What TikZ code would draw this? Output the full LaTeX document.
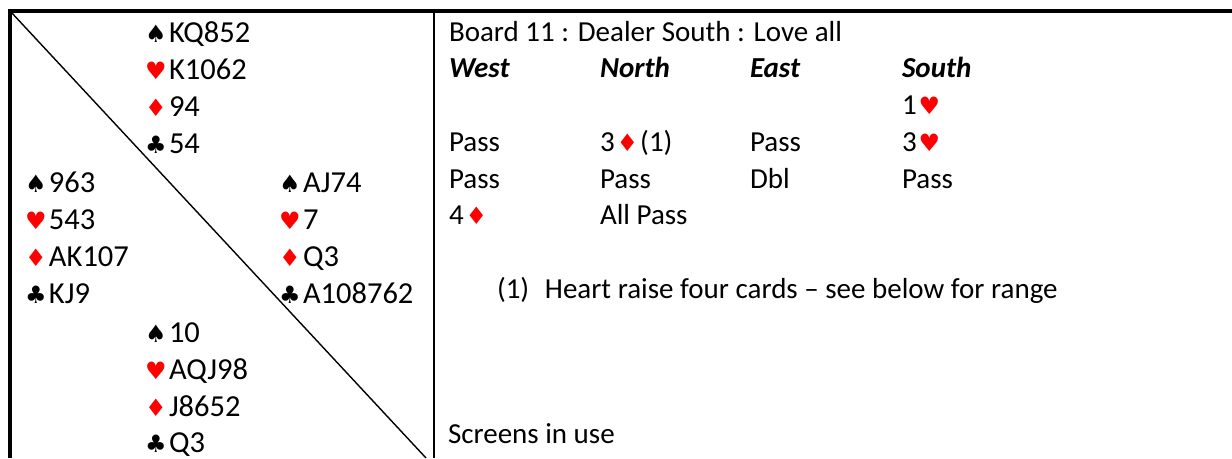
\documentclass[tikz,border=0pt]{standalone}
\usepackage{fontspec}
\setmainfont{Carlito}
\newfontfamily\suitfont{DejaVu Sans}
\definecolor{suitred}{RGB}{255,0,0}
\newcommand\SPADE{{\suitfont\fontsize{24}{24}\selectfont ♠}}
\newcommand\CLUB{{\suitfont\fontsize{24}{24}\selectfont ♣}}
\newcommand\HEART{{\color{suitred}\suitfont\fontsize{24}{24}\selectfont ♥}}
\newcommand\DIAM{{\color{suitred}\suitfont\fontsize{24}{24}\selectfont ♦}}
\newcommand\hs[2]{\makebox[24pt][l]{#1}#2}
\newcommand\bid[1]{\kern2pt#1\kern2pt}
\begin{document}
\begin{tikzpicture}[x=1pt,y=-1pt,
  txt/.style={anchor=base west, inner sep=0pt, outer sep=0pt, font=\fontsize{29}{35}\selectfont},
  hand/.style={txt, font=\fontsize{30.5}{35}\selectfont},
  head/.style={txt, font=\fontsize{29}{35}\selectfont\bfseries\itshape},
  frame/.style={line width=4pt, black},
  divider/.style={line width=2pt, black},
  diag/.style={line width=1.4pt, black}]
\useasboundingbox (0,0) rectangle (1232,458);
% frame
\coordinate (tl) at (8,11);
\coordinate (tr) at (1232,11);
\coordinate (lt) at (10,9);
\coordinate (lb) at (10,458);
\coordinate (mt) at (434,13);
\coordinate (mb) at (434,458);
\coordinate (ds) at (11,12);
\coordinate (de) at (426,458);
\draw[frame] (tl) -- (tr);
\draw[frame] (lt) -- (lb);
\draw[divider] (mt) -- (mb);
\draw[diag] (ds) -- (de);
% North
\node[hand] (n1) at (145,42) {\hs{\SPADE}{KQ852}};
\node[hand] (n2) at (145,79) {\hs{\HEART}{K1062}};
\node[hand] (n3) at (145,116) {\hs{\DIAM}{94}};
\node[hand] (n4) at (145,153) {\hs{\CLUB}{54}};
% West
\node[hand] (w1) at (25,192) {\hs{\SPADE}{963}};
\node[hand] (w2) at (25,229) {\hs{\HEART}{543}};
\node[hand] (w3) at (25,266) {\hs{\DIAM}{AK107}};
\node[hand] (w4) at (25,303) {\hs{\CLUB}{KJ9}};
% East
\node[hand] (e1) at (279,192) {\hs{\SPADE}{AJ74}};
\node[hand] (e2) at (279,229) {\hs{\HEART}{7}};
\node[hand] (e3) at (279,266) {\hs{\DIAM}{Q3}};
\node[hand] (e4) at (279,303) {\hs{\CLUB}{A108762}};
% South
\node[hand] (s1) at (145,342) {\hs{\SPADE}{10}};
\node[hand] (s2) at (145,379) {\hs{\HEART}{AQJ98}};
\node[hand] (s3) at (145,416) {\hs{\DIAM}{J8652}};
\node[hand] (s4) at (145,452) {\hs{\CLUB}{Q3}};
% Bidding
\node[txt] (title) at (449,41) {Board 11 : Dealer South : Love all};
\node[head] (hw) at (449,77) {West};
\node[head] (hn) at (600,77) {North};
\node[head] (he) at (750,77) {East};
\node[head] (hsouth) at (902,77) {South};
\node[txt] (b1s) at (902,114) {1\bid{\HEART}};
\node[txt] (b2w) at (449,151) {Pass};
\node[txt] (b2n) at (600,151) {3\bid{\DIAM}(1)};
\node[txt] (b2e) at (750,151) {Pass};
\node[txt] (b2s) at (902,151) {3\bid{\HEART}};
\node[txt] (b3w) at (449,188) {Pass};
\node[txt] (b3n) at (600,188) {Pass};
\node[txt] (b3e) at (750,188) {Dbl};
\node[txt] (b3s) at (902,188) {Pass};
\node[txt] (b4w) at (449,224) {4\bid{\DIAM}};
\node[txt] (b4n) at (600,224) {All Pass};
\node[txt] (note) at (497,298) {\makebox[48pt][l]{(1)}Heart raise four cards – see below for range};
\node[txt] (screens) at (448,443) {Screens in use};
\end{tikzpicture}
\end{document}
